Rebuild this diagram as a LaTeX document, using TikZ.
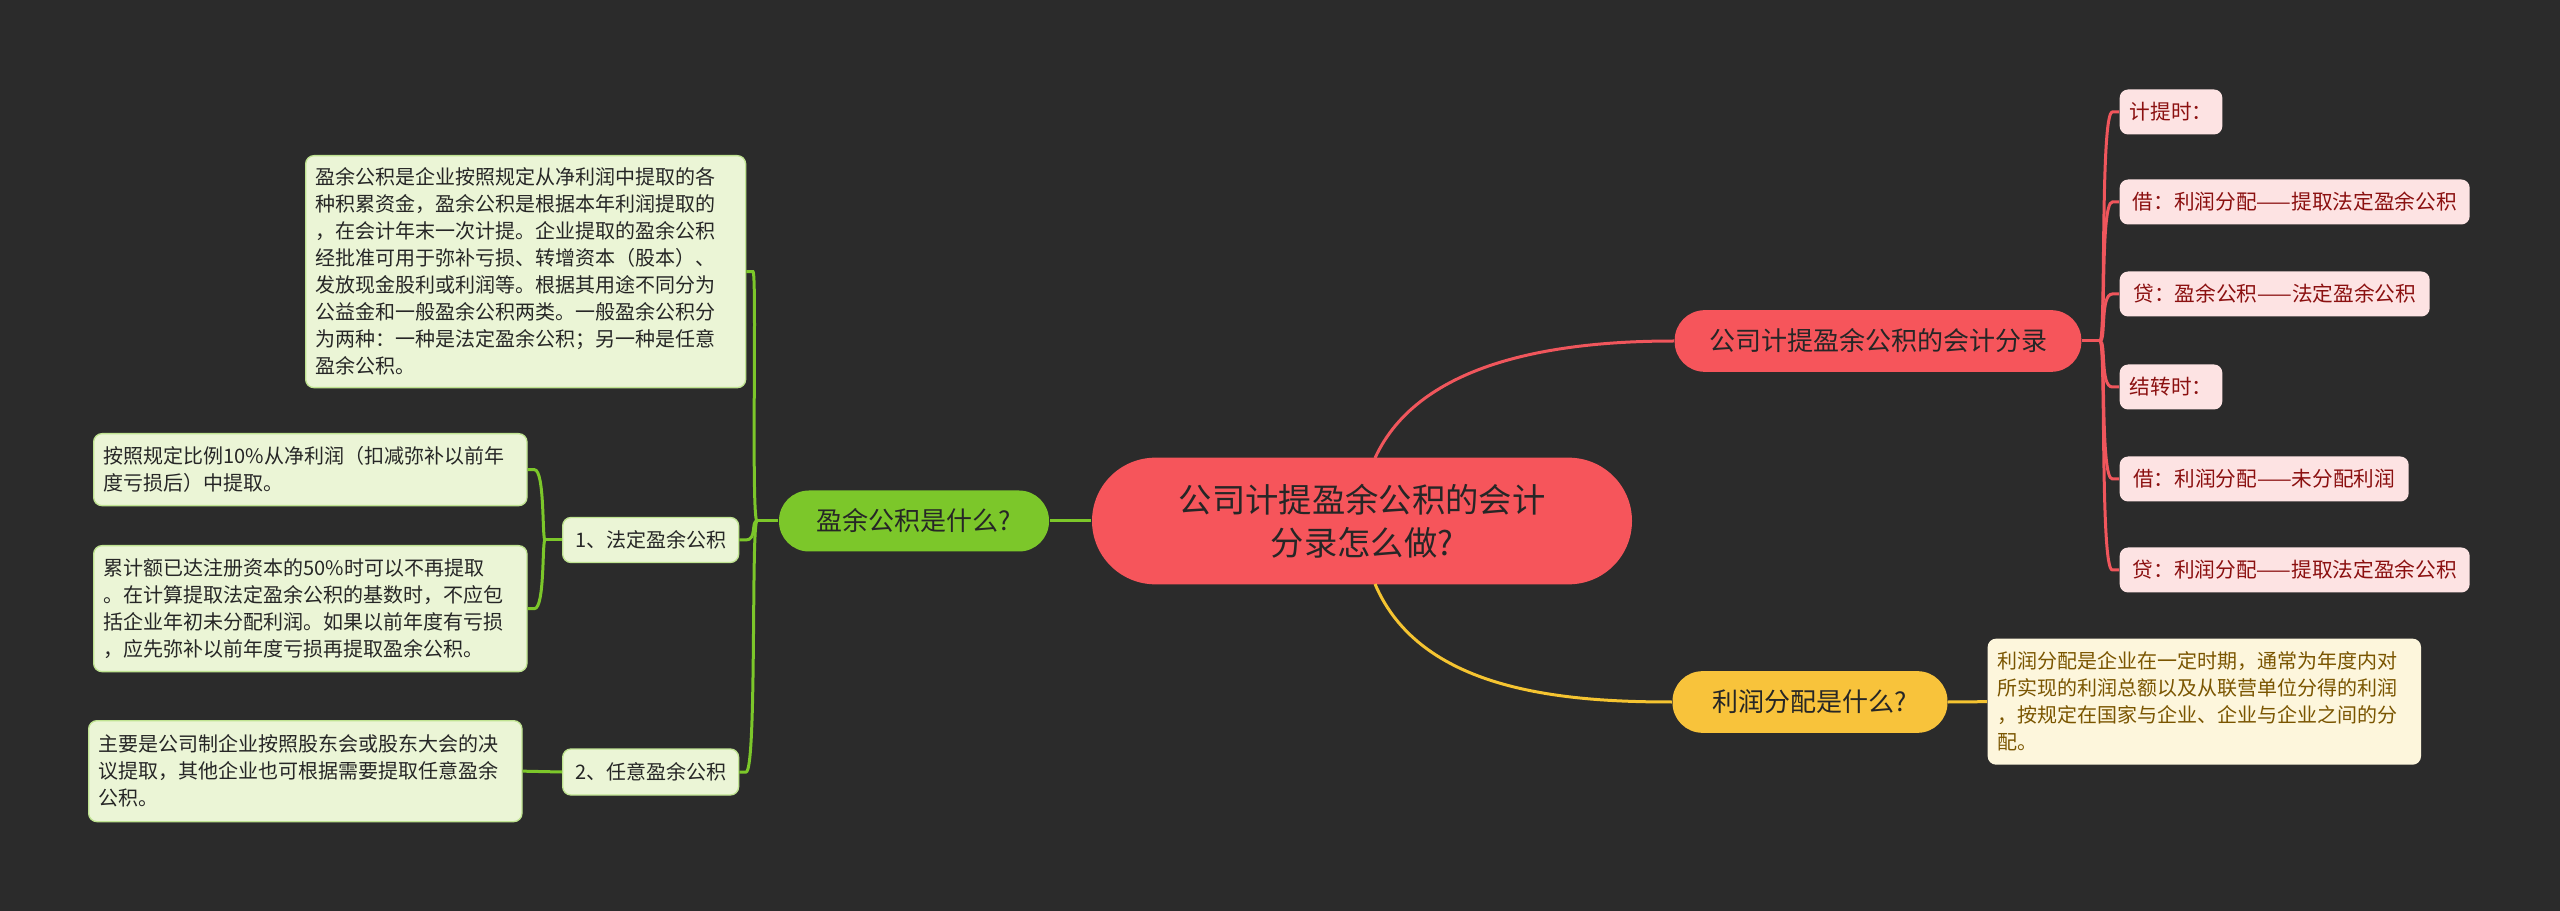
\documentclass[tikz,border=0pt]{standalone}
\usepackage{fontspec}
\setmainfont{Noto Sans CJK SC}
\begin{document}
\begin{tikzpicture}[x=0.3pt,y=-0.3pt,
  base/.style={rounded corners=2.5pt,inner xsep=3pt,inner ysep=0pt,align=left},
  gbox/.style={base,fill=gfill,draw=gline!40!gfill,line width=0.4pt,text=black!85,font=\fontsize{6}{8.1}\selectfont,anchor=north west},
  rbox/.style={base,fill=rfill,text=rtext,font=\fontsize{6.2}{8}\selectfont,anchor=west,minimum height=13.5pt},
  pill/.style={rounded corners=9pt,inner xsep=6pt,align=center,font=\fontsize{7.8}{9}\selectfont,text=black!85},
  gline/.style={draw=gline,line width=0.9pt},
  rlinks/.style={draw=rline,line width=0.9pt},
  ylinks/.style={draw=yline,line width=0.9pt}]
\definecolor{bg}{HTML}{2B2B2B}
\definecolor{gfill}{HTML}{EBF5D6}
\definecolor{gline}{HTML}{7CC72A}
\definecolor{rfill}{HTML}{FDE3E3}
\definecolor{rtext}{HTML}{8B1010}
\definecolor{rline}{HTML}{F0565C}
\definecolor{rnode}{HTML}{F6555B}
\definecolor{ynode}{HTML}{F8C33B}
\definecolor{yline}{HTML}{F5C431}
\definecolor{yfill}{HTML}{FDF6DC}
\definecolor{ytext}{HTML}{7A5500}
\fill[bg] (0,0) rectangle (2560,911);
\useasboundingbox (0,0) rectangle (2560,911);

% center
\node[pill,fill=rnode,rounded corners=19pt,minimum width=162pt,minimum height=38pt,font=\fontsize{10}{13}\selectfont,text=black!85] (c) at (1362,521) {公司计提盈余公积的会计\\分录怎么做?};

% right red branch
\node[pill,fill=rnode,minimum width=122pt,minimum height=18.5pt] (r) at (1878,341) {公司计提盈余公积的会计分录};
\node[rbox,minimum width=30.6pt] (r1) at (2119,112) {计提时：};
\node[rbox,minimum width=105pt] (r2) at (2119,202) {借：利润分配——提取法定盈余公积};
\node[rbox,minimum width=93pt] (r3) at (2119,294) {贷：盈余公积——法定盈余公积};
\node[rbox,minimum width=30.6pt] (r4) at (2119,387) {结转时：};
\node[rbox,minimum width=86.7pt] (r5) at (2119,479) {借：利润分配——未分配利润};
\node[rbox,minimum width=105pt] (r6) at (2119,570) {贷：利润分配——提取法定盈余公积};

% yellow branch
\node[pill,fill=ynode,minimum width=82.5pt,minimum height=18.5pt] (y) at (1810,702) {利润分配是什么?};
\node[base,fill=yfill,text=ytext,font=\fontsize{6}{8.1}\selectfont,anchor=north west,text width=124pt,minimum height=37.8pt] (y1) at (1987,638) {利润分配是企业在一定时期，通常为年度内对\\所实现的利润总额以及从联营单位分得的利润\\，按规定在国家与企业、企业与企业之间的分\\配。};

% green branch
\node[pill,fill=gline,minimum width=81pt,minimum height=18.3pt] (g) at (914,521) {盈余公积是什么?};
\node[gbox,text width=126pt,minimum height=69.6pt] (g1) at (305,155) {盈余公积是企业按照规定从净利润中提取的各\\种积累资金，盈余公积是根据本年利润提取的\\，在会计年末一次计提。企业提取的盈余公积\\经批准可用于弥补亏损、转增资本（股本）、\\发放现金股利或利润等。根据其用途不同分为\\公益金和一般盈余公积两类。一般盈余公积分\\为两种：一种是法定盈余公积；另一种是任意\\盈余公积。};
\node[gbox,anchor=west,minimum width=52.8pt,minimum height=13.5pt] (g2) at (562,540) {1、法定盈余公积};
\node[gbox,anchor=west,minimum width=52.8pt,minimum height=13.8pt] (g3) at (562,772) {2、任意盈余公积};
\node[gbox,text width=124pt,minimum height=21.6pt] (g21) at (93,433) {按照规定比例10\%从净利润（扣减弥补以前年\\度亏损后）中提取。};
\node[gbox,text width=124pt,minimum height=37.8pt] (g22) at (93,545) {累计额已达注册资本的50\%时可以不再提取\\。在计算提取法定盈余公积的基数时，不应包\\括企业年初未分配利润。如果以前年度有亏损\\，应先弥补以前年度亏损再提取盈余公积。};
\node[gbox,text width=124pt,minimum height=30.3pt] (g31) at (88,720) {主要是公司制企业按照股东会或股东大会的决\\议提取，其他企业也可根据需要提取任意盈余\\公积。};

% connectors center
\draw[rlinks] (1375,458) .. controls (1420,360) and (1560,341) .. (r.west);
\draw[ylinks] (1375,584) .. controls (1420,690) and (1560,702) .. (y.west);
\draw[gline] (c.west) -- (g.east);
\draw[ylinks] (y.east) -- (y1.west);

% red children
\coordinate (rj) at (2100,341);
\draw[rlinks] (r.east) -- (rj);
\foreach \n in {r1,r2,r3,r4,r5,r6}{
  \draw[rlinks] (rj) .. controls (2106,341) and (2100,0|-\n.west) .. ([xshift=-2pt]\n.west) -- (\n.west);
}
% green children
\coordinate (gj) at (757,521);
\draw[gline] (g.west) -- (gj);
\draw[gline] (gj) .. controls (751,521) and (757,0|-g1.east) .. ([xshift=2pt]g1.east) -- (g1.east);
\draw[gline] (gj) .. controls (751,521) and (757,540) .. ([xshift=2pt]g2.east) -- (g2.east);
\draw[gline] (gj) .. controls (751,521) and (757,772) .. ([xshift=2pt]g3.east) -- (g3.east);
\coordinate (gj2) at (545,540);
\draw[gline] (g2.west) -- (gj2);
\draw[gline] (gj2) .. controls (542,540) and (545,0|-g21.east) .. ([xshift=2pt]g21.east) -- (g21.east);
\draw[gline] (gj2) .. controls (542,540) and (545,0|-g22.east) .. ([xshift=2pt]g22.east) -- (g22.east);
\draw[gline] (g3.west) -- (g31.east);
\end{tikzpicture}
\end{document}
